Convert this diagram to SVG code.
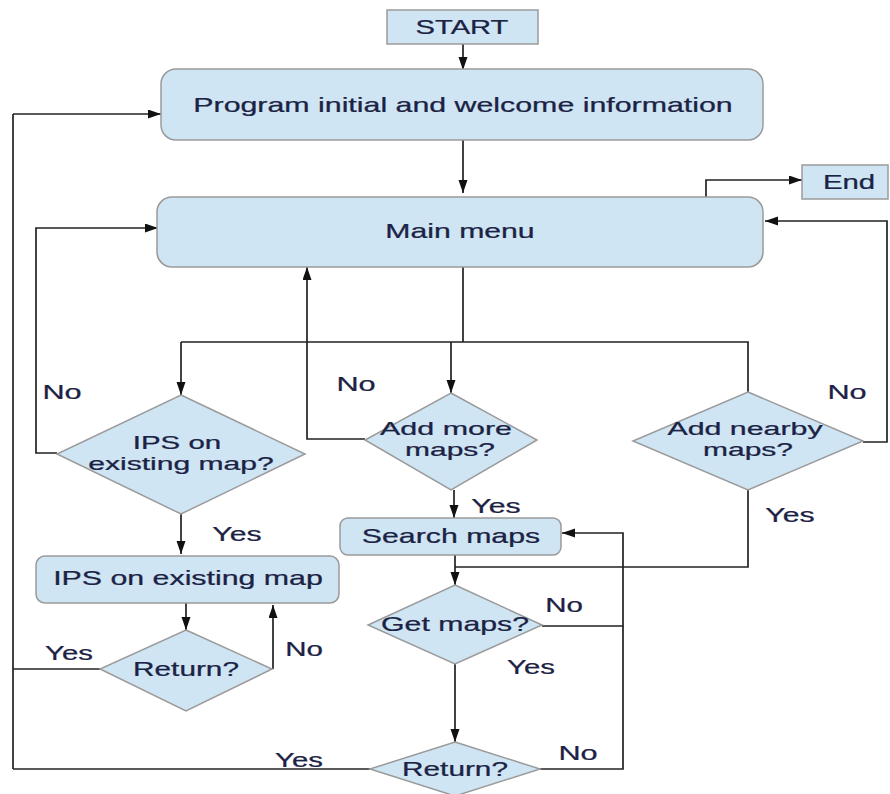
<svg xmlns="http://www.w3.org/2000/svg" width="890" height="794" viewBox="0 0 890 794">
<defs>
<marker id="ah" markerUnits="userSpaceOnUse" markerWidth="14" markerHeight="10" refX="13" refY="4.5" orient="auto">
<path d="M0,0 L13,4.5 L0,9 z" fill="#111"/>
</marker>
<style>
.box{fill:#cfe5f3;stroke:#9a9a9a;stroke-width:1.5}
.t{font-family:"Liberation Sans",Arial,sans-serif;font-size:20px;fill:#1b2244;stroke:#1b2244;stroke-width:0.25;text-anchor:middle}
.s{font-size:18px}
.c{fill:none;stroke:#222;stroke-width:1.7}
.a{marker-end:url(#ah)}
</style>
</defs>
<rect width="890" height="794" fill="#fff"/>
<g id="connectors">
<path class="c a" d="M463,44 V70"/>
<path class="c a" d="M463,140 V193"/>
<path class="c a" d="M706,197 V180 H802"/>
<path class="c a" d="M863,442 H887 V221 H765"/>
<path class="c a" d="M57,453 H36 V228 H158"/>
<path class="c" d="M13,769 V114"/>
<path class="c a" d="M13,114 H161"/>
<path class="c" d="M463,267 V342"/>
<path class="c" d="M181,342 H748 V392"/>
<path class="c a" d="M181,342 V395"/>
<path class="c a" d="M451,342 V393"/>
<path class="c a" d="M365,439 H307 V267"/>
<path class="c a" d="M454,490 V518"/>
<path class="c" d="M748,490 V567 H455"/>
<path class="c a" d="M455,555 V585"/>
<path class="c a" d="M542,626 H623 V533 H562"/>
<path class="c" d="M540,769 H623 V626"/>
<path class="c a" d="M455,664 V742"/>
<path class="c" d="M370,769 H13"/>
<path class="c a" d="M181,514 V554"/>
<path class="c a" d="M186,603 V630"/>
<path class="c a" d="M273,669 V605"/>
<path class="c" d="M100,669 H13"/>
</g>
<g id="start">
<rect class="box" x="387" y="10" width="151" height="34"/>
<text class="t" transform="translate(462,34) scale(1.45,1)" textLength="64" lengthAdjust="spacingAndGlyphs">START</text>
</g>
<g id="program">
<rect class="box" x="161" y="69" width="602" height="71" rx="15"/>
<text class="t" transform="translate(463,112) scale(1.45,1)" textLength="372" lengthAdjust="spacingAndGlyphs">Program initial and welcome information</text>
</g>
<g id="end">
<rect class="box" x="802" y="165" width="86" height="34"/>
<text class="t" transform="translate(849,189) scale(1.45,1)" textLength="36" lengthAdjust="spacingAndGlyphs">End</text>
</g>
<g id="mainmenu">
<rect class="box" x="157" y="197" width="606" height="70" rx="15"/>
<text class="t" transform="translate(460,238) scale(1.45,1)" textLength="103" lengthAdjust="spacingAndGlyphs">Main menu</text>
</g>
<g id="ips-decision">
<polygon class="box" points="181,395 305,454 181,514 57,454"/>
<text class="t s" transform="translate(177,449) scale(1.45,1)" textLength="61" lengthAdjust="spacingAndGlyphs">IPS on</text>
<text class="t s" transform="translate(181,470) scale(1.45,1)" textLength="128" lengthAdjust="spacingAndGlyphs">existing map?</text>
</g>
<g id="addmore">
<polygon class="box" points="451,393 537,440 451,490 365,440"/>
<text class="t s" transform="translate(446,435) scale(1.45,1)" textLength="91" lengthAdjust="spacingAndGlyphs">Add more</text>
<text class="t s" transform="translate(450,456) scale(1.45,1)" textLength="62" lengthAdjust="spacingAndGlyphs">maps?</text>
</g>
<g id="addnearby">
<polygon class="box" points="748,392 863,441 748,490 633,441"/>
<text class="t s" transform="translate(745,435) scale(1.45,1)" textLength="107" lengthAdjust="spacingAndGlyphs">Add nearby</text>
<text class="t s" transform="translate(748,456) scale(1.45,1)" textLength="62" lengthAdjust="spacingAndGlyphs">maps?</text>
</g>
<g id="searchmaps">
<rect class="box" x="340" y="518" width="221" height="37" rx="8"/>
<text class="t" transform="translate(451,543) scale(1.45,1)" textLength="123" lengthAdjust="spacingAndGlyphs">Search maps</text>
</g>
<g id="ips-existing">
<rect class="box" x="36" y="556" width="303" height="47" rx="9"/>
<text class="t" transform="translate(188,585) scale(1.45,1)" textLength="186" lengthAdjust="spacingAndGlyphs">IPS on existing map</text>
</g>
<g id="return1">
<polygon class="box" points="186,630 272,669 186,711 100,669"/>
<text class="t" transform="translate(186,676) scale(1.45,1)" textLength="73" lengthAdjust="spacingAndGlyphs">Return?</text>
</g>
<g id="getmaps">
<polygon class="box" points="455,585 542,625 455,664 368,625"/>
<text class="t" transform="translate(455,631) scale(1.45,1)" textLength="102" lengthAdjust="spacingAndGlyphs">Get maps?</text>
</g>
<g id="return2">
<polygon class="box" points="455,742 540,769 455,796 370,769"/>
<text class="t" transform="translate(455,776) scale(1.45,1)" textLength="73" lengthAdjust="spacingAndGlyphs">Return?</text>
</g>
<g id="labels">
<text class="t" transform="translate(62,399) scale(1.45,1)" textLength="27" lengthAdjust="spacingAndGlyphs">No</text>
<text class="t" transform="translate(356,391) scale(1.45,1)" textLength="27" lengthAdjust="spacingAndGlyphs">No</text>
<text class="t" transform="translate(847,399) scale(1.45,1)" textLength="27" lengthAdjust="spacingAndGlyphs">No</text>
<text class="t" transform="translate(496,513) scale(1.45,1)" textLength="34" lengthAdjust="spacingAndGlyphs">Yes</text>
<text class="t" transform="translate(790,522) scale(1.45,1)" textLength="34" lengthAdjust="spacingAndGlyphs">Yes</text>
<text class="t" transform="translate(237,541) scale(1.45,1)" textLength="34" lengthAdjust="spacingAndGlyphs">Yes</text>
<text class="t" transform="translate(69,660) scale(1.45,1)" textLength="33" lengthAdjust="spacingAndGlyphs">Yes</text>
<text class="t" transform="translate(304,656) scale(1.45,1)" textLength="26" lengthAdjust="spacingAndGlyphs">No</text>
<text class="t" transform="translate(564,612) scale(1.45,1)" textLength="26" lengthAdjust="spacingAndGlyphs">No</text>
<text class="t" transform="translate(531,674) scale(1.45,1)" textLength="33" lengthAdjust="spacingAndGlyphs">Yes</text>
<text class="t" transform="translate(578,760) scale(1.45,1)" textLength="27" lengthAdjust="spacingAndGlyphs">No</text>
<text class="t" transform="translate(299,767) scale(1.45,1)" textLength="33" lengthAdjust="spacingAndGlyphs">Yes</text>
</g>
</svg>
